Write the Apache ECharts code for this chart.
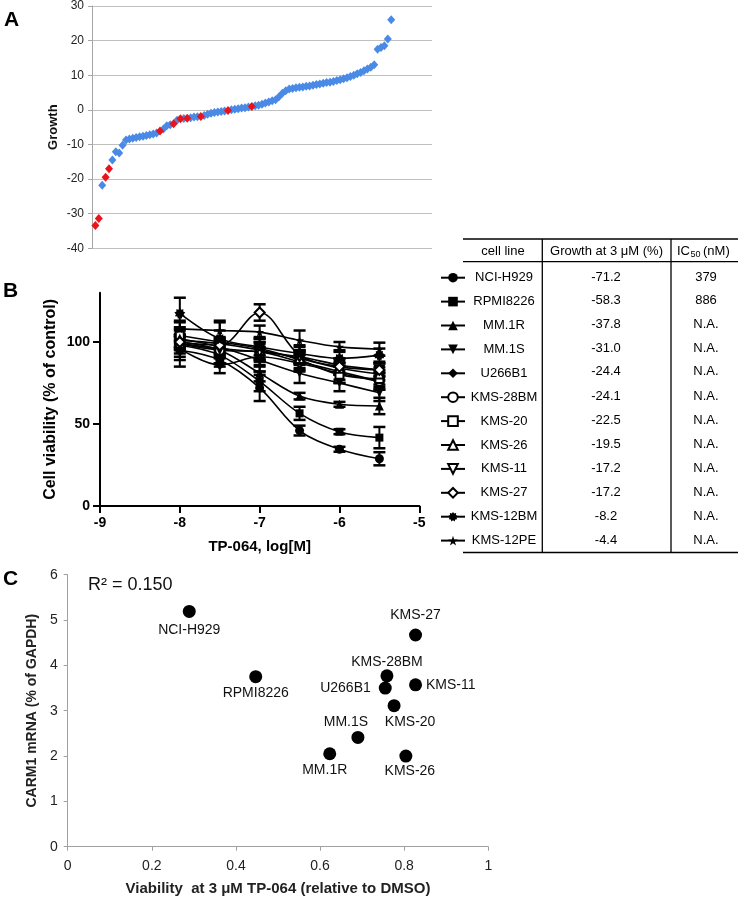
<!DOCTYPE html>
<html><head><meta charset="utf-8">
<script src="https://cdn.jsdelivr.net/npm/echarts@6/dist/echarts.min.js"></script>
<style>html,body{margin:0;padding:0;background:#fff}#c{width:740px;height:899px}</style>
</head><body><div id="c"></div>
<script>
// ---------- Panel A: screen (rank-ordered growth) ----------
const screenGrowth = [
  -33.4,-31.4,-21.8,-19.5,-17.0,-14.5,-12.1,-12.5,-10.2,-8.7,
  -8.4,-8.2,-8.0,-7.8,-7.6,-7.4,-7.2,-7.0,-6.7,-6.1,
  -5.5,-4.6,-4.3,-4.0,-3.0,-2.6,-2.5,-2.4,-2.3,-2.1,
  -2.0,-1.9,-1.6,-1.3,-1.0,-0.8,-0.6,-0.5,-0.3,-0.2,
  0.0,0.2,0.3,0.5,0.6,0.8,1.0,1.2,1.3,1.6,
  2.0,2.3,2.6,2.9,3.8,4.8,5.5,6.0,6.2,6.4,
  6.5,6.6,6.8,6.9,7.1,7.3,7.5,7.7,7.9,8.0,
  8.2,8.5,8.7,9.0,9.3,9.6,10.0,10.4,10.8,11.3,
  11.8,12.3,13.0,17.5,18.0,18.5,20.5,26.0
];
const screenHighlight = [1,2,4,5,20,24,26,28,32,40,47]; // 1-based ranks shown in red

// ---------- Panel B: dose response ----------
const doses = [-8, -7.5, -7, -6.5, -6, -5.5];
const cellLines = ['NCI-H929','RPMI8226','MM.1R','MM.1S','U266B1','KMS-28BM','KMS-20','KMS-26','KMS-11','KMS-27','KMS-12BM','KMS-12PE'];
const growth3uM = [-71.2,-58.3,-37.8,-31.0,-24.4,-24.1,-22.5,-19.5,-17.2,-17.2,-8.2,-4.4];
const ic50nM = ['379','886','N.A.','N.A.','N.A.','N.A.','N.A.','N.A.','N.A.','N.A.','N.A.','N.A.'];
const viabNCIH929 = [95, 89, 72, 46, 34.6, 28.8];
const sdNCIH929   = [6, 4, 8, 3, 1.5, 4];
const viabRPMI8226 = [98, 92, 76, 56.5, 45.3, 41.7];
const sdRPMI8226   = [5, 5, 6, 4, 1.5, 6.5];
const viabMM1R = [100, 95, 81, 67, 62, 61];
const sdMM1R   = [4, 4, 5, 2, 1.5, 5];
const viabMM1S = [102, 97, 89, 81, 75, 69];
const sdMM1S   = [5, 4, 7, 6, 5, 5];
const viabU266B1 = [96, 86, 91, 87, 81, 76];
const sdU266B1   = [5, 5, 6, 5, 6, 5];
const viabKMS28BM = [99, 95, 94, 88, 82, 76];
const sdKMS28BM   = [14, 5, 6, 5, 5, 5];
const viabKMS20 = [104, 100, 96, 89, 80, 77.5];
const sdKMS20   = [5, 13, 7, 5, 5, 5];
const viabKMS26 = [101, 99, 95, 90, 84, 80.5];
const sdKMS26   = [4, 4, 5, 4, 4, 4];
const viabKMS11 = [99, 96, 94, 91, 86, 83];
const sdKMS11   = [4, 4, 5, 4, 4, 4];
const viabKMS27 = [100, 98, 118, 92, 85, 83];
const sdKMS27   = [4, 4, 5, 5, 5, 4];
const viabKMS12BM = [117.5, 102, 97, 93, 90, 92];
const sdKMS12BM   = [9.5, 5, 5, 5, 5, 4];
const viabKMS12PE = [108, 107, 106, 101, 97, 95.6];
const sdKMS12PE   = [4, 5, 4, 6, 3, 4];

// ---------- Panel C ----------
const cLines = ['NCI-H929','RPMI8226','MM.1R','MM.1S','U266B1','KMS-28BM','KMS-20','KMS-26','KMS-11','KMS-27'];
const cViability = [0.289, 0.447, 0.623, 0.690, 0.755, 0.759, 0.776, 0.804, 0.827, 0.827];
const cCarm1 = [5.19, 3.75, 2.05, 2.41, 3.50, 3.77, 3.11, 2.00, 3.57, 4.67];

// ---------- build ----------
const FF = '"Liberation Sans", Arial, Helvetica, sans-serif';
const viab = [viabNCIH929, viabRPMI8226, viabMM1R, viabMM1S, viabU266B1, viabKMS28BM, viabKMS20, viabKMS26, viabKMS11, viabKMS27, viabKMS12BM, viabKMS12PE];
const sds = [sdNCIH929, sdRPMI8226, sdMM1R, sdMM1S, sdU266B1, sdKMS28BM, sdKMS20, sdKMS26, sdKMS11, sdKMS27, sdKMS12BM, sdKMS12PE];

function starPath(n, r1, r2) {
  let d = 'path://';
  for (let i = 0; i < 2 * n; i++) {
    const a = i * Math.PI / n - Math.PI / 2;
    const r = i % 2 ? r2 : r1;
    d += (i ? 'L' : 'M') + (r * Math.cos(a)).toFixed(2) + ',' + (r * Math.sin(a)).toFixed(2) + ' ';
  }
  return d + 'Z';
}
const symbols = ['circle','rect','triangle','triangle','diamond','emptyCircle','emptyRect','emptyTriangle','emptyTriangle','emptyDiamond', starPath(9, 10, 7), starPath(5, 10, 4)];
const rotations = [0,0,0,180,0,0,0,0,180,0,0,0];
const sizes = [9,8,9,9,10,9,8,9,9,10,11,9];

const chart = echarts.init(document.getElementById('c'), null, {renderer: 'canvas'});

const seriesB = cellLines.map((name, i) => ({
  name, type: 'line', xAxisIndex: 1, yAxisIndex: 1,
  data: doses.map((d, j) => [d, viab[i][j]]),
  smooth: 0.35, symbol: symbols[i], symbolRotate: rotations[i], symbolSize: sizes[i],
  lineStyle: {color: '#000', width: 1.6}, itemStyle: {color: '#000'},
  z: 3, silent: true
}));
const errData = [];
cellLines.forEach((n, i) => doses.forEach((d, j) => errData.push([d, viab[i][j], sds[i][j]])));

const labelPos = {
  'NCI-H929': {position: 'bottom', distance: 5},
  'RPMI8226': {position: 'bottom', distance: 3},
  'MM.1R': {position: 'bottom', distance: 3, offset: [-5, 0]},
  'MM.1S': {position: 'top', distance: 2, offset: [-12, 0]},
  'U266B1': {position: 'left', distance: 8},
  'KMS-28BM': {position: 'top', distance: 0},
  'KMS-20': {position: 'bottom', distance: 3, offset: [16, 0]},
  'KMS-26': {position: 'bottom', distance: 2, offset: [4, 0]},
  'KMS-11': {position: 'right', distance: 4},
  'KMS-27': {position: 'top', distance: 6}
};

const rowY = [277.7, 300.7, 324.3, 348.3, 371.7, 396.7, 420.7, 444.3, 468.3, 492, 516.3, 540.5];
const T = (text, x, y, extra) => Object.assign({type: 'text', x, y, style: Object.assign({text, font: '13px ' + FF, fill: '#000', align: 'center', verticalAlign: 'middle'}, extra || {})});
const L = (x1, y1, x2, y2) => ({type: 'line', shape: {x1, y1, x2, y2}, style: {stroke: '#000', lineWidth: 1.3}});

const graphics = [
  T('A', 4, 20, {font: 'bold 21px ' + FF, align: 'left'}),
  T('B', 3, 291, {font: 'bold 21px ' + FF, align: 'left'}),
  T('C', 3, 579, {font: 'bold 21px ' + FF, align: 'left'}),
  T('R² = 0.150', 88, 585, {font: '18px ' + FF, align: 'left', fill: '#111'}),
  L(463, 239, 738, 239), L(463, 261.7, 738, 261.7), L(463, 552.5, 738, 552.5),
  L(542.3, 239, 542.3, 552.5), L(671, 239, 671, 552.5),
  T('cell line', 503, 251, {}),
  T('Growth at 3 \u03BCM (%)', 606.5, 251, {}),
  T('IC', 677, 251, {align: 'left'}),
  T('50', 690.5, 255, {align: 'left', font: '9px ' + FF}),
  T('(nM)', 703, 251, {align: 'left'})
];
growth3uM.forEach((g, i) => graphics.push(T(g.toFixed(1), 606, rowY[i])));
ic50nM.forEach((s, i) => graphics.push(T(s, 706, rowY[i])));

const option = {
  animation: false,
  textStyle: {fontFamily: FF},
  grid: [
    {left: 92, top: 6, width: 340, height: 242.3},
    {left: 100, top: 292.8, width: 319.3, height: 213.2},
    {left: 67.7, top: 574.7, width: 420.6, height: 272}
  ],
  xAxis: [
    {gridIndex: 0, type: 'value', min: 0, max: 100, show: false},
    {gridIndex: 1, type: 'value', min: -9, max: -5, interval: 1,
      axisLine: {onZero: false, lineStyle: {color: '#000', width: 2}},
      axisTick: {length: 7, lineStyle: {color: '#000', width: 2}},
      axisLabel: {fontSize: 14, fontWeight: 'bold', color: '#000', margin: 10, fontFamily: FF},
      splitLine: {show: false},
      name: 'TP-064, log[M]', nameLocation: 'middle', nameGap: 33,
      nameTextStyle: {fontSize: 15, fontWeight: 'bold', color: '#000', fontFamily: FF}},
    {gridIndex: 2, type: 'value', min: 0, max: 1, interval: 0.2,
      axisLine: {onZero: false, lineStyle: {color: '#a0a0a0', width: 1}},
      axisTick: {show: true, length: 4, lineStyle: {color: '#a0a0a0'}},
      axisLabel: {fontSize: 14, color: '#222', margin: 12, fontFamily: FF},
      splitLine: {show: false},
      name: 'Viability  at 3 \u03BCM TP-064 (relative to DMSO)', nameLocation: 'middle', nameGap: 35,
      nameTextStyle: {fontSize: 15, fontWeight: 'bold', color: '#222', fontFamily: FF}}
  ],
  yAxis: [
    {gridIndex: 0, type: 'value', min: -40, max: 30, interval: 10,
      axisLine: {show: true, lineStyle: {color: '#a6a6a6'}},
      axisTick: {show: true, length: 4, lineStyle: {color: '#a6a6a6'}},
      axisLabel: {fontSize: 12, color: '#222', margin: 8, fontFamily: FF},
      splitLine: {show: true, lineStyle: {color: '#c0c0c0', width: 1}},
      name: 'Growth', nameLocation: 'middle', nameGap: 32,
      nameTextStyle: {fontSize: 13, fontWeight: 'bold', color: '#111', fontFamily: FF}},
    {gridIndex: 1, type: 'value', min: 0, max: 130, interval: 50,
      axisLine: {show: true, onZero: false, lineStyle: {color: '#000', width: 2}},
      axisTick: {show: true, length: 7, lineStyle: {color: '#000', width: 2}, customValues: [0, 50, 100]},
      axisLabel: {fontSize: 14, fontWeight: 'bold', color: '#000', margin: 10, fontFamily: FF, customValues: [0, 50, 100]},
      splitLine: {show: false},
      name: 'Cell viability (% of control)', nameLocation: 'middle', nameGap: 41,
      nameTextStyle: {fontSize: 16, fontWeight: 'bold', color: '#000', fontFamily: FF}},
    {gridIndex: 2, type: 'value', min: 0, max: 6, interval: 1,
      axisLine: {show: true, onZero: false, lineStyle: {color: '#a0a0a0'}},
      axisTick: {show: true, length: 4, lineStyle: {color: '#a0a0a0'}},
      axisLabel: {fontSize: 14, color: '#222', margin: 10, fontFamily: FF},
      splitLine: {show: false},
      name: 'CARM1 mRNA (% of GAPDH)', nameLocation: 'middle', nameGap: 26,
      nameTextStyle: {fontSize: 14, fontWeight: 'bold', color: '#222', fontFamily: FF}}
  ],
  legend: {
    data: cellLines, orient: 'vertical', left: 440, top: 271.2, padding: 0,
    itemWidth: 24, itemHeight: 12, itemGap: 10.9, selectedMode: false,
    formatter: n => '{n|' + n + '}',
    textStyle: {color: '#000', rich: {n: {width: 68, align: 'center', fontSize: 13, fontFamily: FF, color: '#000'}}}
  },
  series: [
    {type: 'scatter', xAxisIndex: 0, yAxisIndex: 0, symbol: 'diamond', symbolSize: [8, 9],
      itemStyle: {color: '#4a8ae6', opacity: 1}, silent: true,
      data: screenGrowth.map((v, i) => [i + 1, v]).filter((p, i) => screenHighlight.indexOf(i + 1) < 0)},
    {type: 'scatter', xAxisIndex: 0, yAxisIndex: 0, symbol: 'diamond', symbolSize: [8, 9], z: 4,
      itemStyle: {color: '#e8141a', opacity: 1}, silent: true,
      data: screenHighlight.map(r => [r, screenGrowth[r - 1]])},
    {type: 'custom', xAxisIndex: 1, yAxisIndex: 1, data: errData, silent: true, z: 2,
      renderItem: (params, api) => {
        const x = api.value(0), y = api.value(1), e = api.value(2);
        const hi = api.coord([x, y + e]), lo = api.coord([x, y - e]);
        const w = 6;
        return {type: 'group', children: [
          {type: 'line', shape: {x1: hi[0], y1: hi[1], x2: lo[0], y2: lo[1]}, style: {stroke: '#000', lineWidth: 2}},
          {type: 'line', shape: {x1: hi[0] - w, y1: hi[1], x2: hi[0] + w, y2: hi[1]}, style: {stroke: '#000', lineWidth: 2.5}},
          {type: 'line', shape: {x1: lo[0] - w, y1: lo[1], x2: lo[0] + w, y2: lo[1]}, style: {stroke: '#000', lineWidth: 2.5}}
        ]};
      }},
    ...seriesB,
    {type: 'scatter', xAxisIndex: 2, yAxisIndex: 2, symbolSize: 13, itemStyle: {color: '#000', opacity: 1}, silent: true,
      label: {show: true, formatter: p => p.name, fontSize: 14, color: '#111', fontFamily: FF},
      data: cLines.map((n, i) => ({name: n, value: [cViability[i], cCarm1[i]], label: labelPos[n]}))}
  ],
  graphic: {elements: graphics}
};
chart.setOption(option);
</script>
</body></html>
